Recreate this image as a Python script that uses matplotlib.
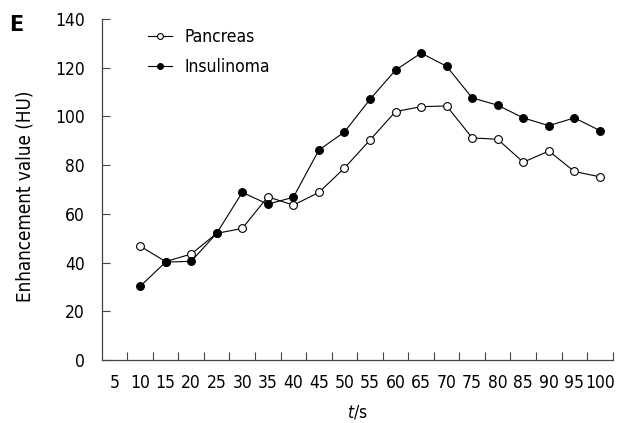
import matplotlib
matplotlib.use("Agg")
import matplotlib.pyplot as plt

times = [5, 10, 15, 20, 25, 30, 35, 40, 45, 50, 55, 60, 65, 70, 75, 80, 85, 90, 95, 100]
pancreas = [None, 46.8, 40.4, 43.5, 52, 54, 67, 63.6, 68.8, 78.8, 90.3, 102, 104, 104.3, 91.2, 90.6, 81.2, 85.8, 77.4, 75.2]
insulinoma = [None, 30.2, 40.2, 40.5, 52, 68.8, 64, 66.8, 86.2, 93.6, 107, 119, 126, 120.6, 107.6, 104.6, 99.4, 96.2, 99.4, 94.2]
y_ticks = [0, 20, 40, 60, 80, 100, 120, 140]

plt.rcParams['font.family'] = ['DejaVu Sans']
plt.rcParams['font.stretch'] = 'condensed'
FS = 12.5

fig = plt.figure(figsize=(6.18, 4.23), dpi=100)
ax = fig.add_axes([0.1646, 0.1489, 0.9914 - 0.1646, 0.9551 - 0.1489])

idx = list(range(len(times)))
px = [i for i, v in zip(idx, pancreas) if v is not None]
pv = [v for v in pancreas if v is not None]
ix = [i for i, v in zip(idx, insulinoma) if v is not None]
iv = [v for v in insulinoma if v is not None]

ax.plot(px, pv, color='black', lw=0.8, marker='o', ms=5.6, mfc='white', mec='black', mew=0.8, label='Pancreas', zorder=3)
ax.plot(ix, iv, color='black', lw=0.8, marker='o', ms=5.6, mfc='black', mec='black', mew=0.8, label='Insulinoma', zorder=4)

ax.set_xlim(-0.5, len(times) - 0.5)
ax.set_ylim(0, 140)
ax.set_yticks(y_ticks)
ax.set_yticklabels([str(v) for v in y_ticks], fontsize=FS)
ax.set_xticks([i + 0.5 for i in idx])
ax.set_xticklabels([])
ax.set_xticks(idx, minor=True)
ax.set_xticklabels([str(t) for t in times], minor=True, fontsize=FS)
ax.tick_params(axis='x', which='major', direction='in', length=5.5, width=0.8, color='#444444')
ax.tick_params(axis='x', which='minor', length=0, pad=10)
ax.tick_params(axis='y', direction='in', length=5.5, width=0.8, color='#444444', pad=12)

for s in ['top', 'right']:
    ax.spines[s].set_visible(False)
for s in ['left', 'bottom']:
    ax.spines[s].set_color('#444444')
    ax.spines[s].set_linewidth(0.9)

ax.set_ylabel('Enhancement value (HU)', fontsize=13.5)
ax.yaxis.set_label_coords(-0.131, 0.48)
ax.set_xlabel(r'$\mathit{t}$/s', fontsize=FS, labelpad=8)
fig.text(0.026, 0.942, 'E', fontsize=15, fontweight='bold', family='DejaVu Sans', stretch='normal',
         ha='center', va='center')

leg = ax.legend(loc='upper left', bbox_to_anchor=(0.06, 1.02), frameon=False, fontsize=FS,
                handlelength=1.4, handletextpad=0.7, labelspacing=0.7, markerscale=0.75)

fig.savefig('out.png', dpi=100)
